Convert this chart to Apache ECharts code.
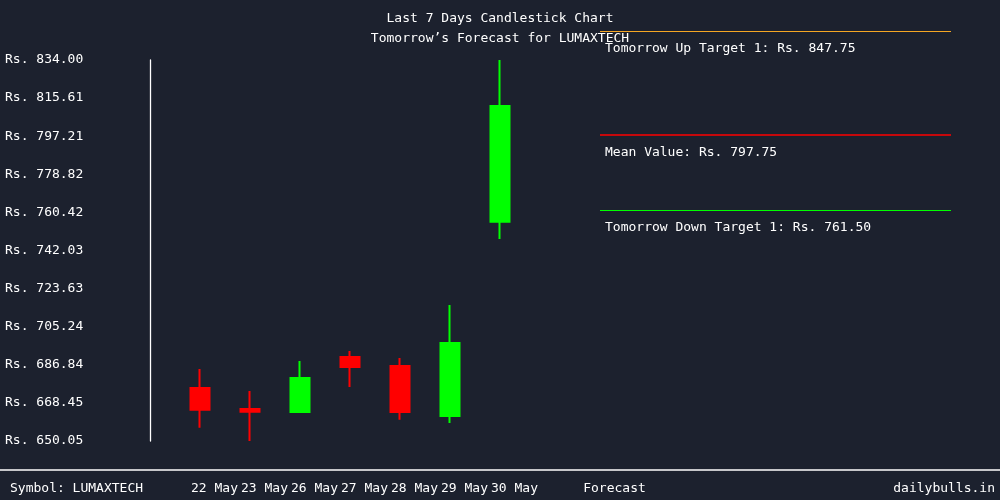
<!DOCTYPE html>
<html>
<head>
<meta charset="utf-8">
<script src="https://cdn.jsdelivr.net/npm/echarts@6/dist/echarts.min.js"></script>
<style>
html,body{margin:0;padding:0;background:#1c212e;}
#chart{width:1000px;height:500px;}
</style>
</head>
<body>
<div id="chart"></div>
<script>
// categories (x axis)
const dates = ['22 May', '23 May', '26 May', '27 May', '28 May', '29 May', '30 May', '', 'Forecast'];
// OHLC values [open, close, low, high]
const opens  = [675.64, 665.50, 664.05, 690.60, 686.30, 662.10, 755.93];
const closes = [665.16, 664.20, 680.47, 685.80, 664.05, 697.40, 811.80];
const lows   = [656.47, 650.05, 663.90, 676.10, 660.30, 658.70, 747.60];
const highs  = [684.81, 674.19, 688.67, 693.50, 690.10, 715.70, 834.00];
// y tick labels
const yTicks = [650.05, 668.45, 686.84, 705.24, 723.63, 742.03, 760.42, 778.82, 797.21, 815.61, 834.00];
// forecast targets
const forecastNames  = ['Tomorrow Up Target 1', 'Mean Value', 'Tomorrow Down Target 1'];
const forecastValues = [847.75, 797.75, 761.50];
const forecastColors = ['#f5a623', '#ff0000', '#00ff00'];

const FONT = "'DejaVu Sans Mono', 'Liberation Mono', monospace";
const candleData = opens.map((o, i) => [o, closes[i], lows[i], highs[i]]);

const chart = echarts.init(document.getElementById('chart'), null, {renderer: 'canvas'});
chart.setOption({
  backgroundColor: '#1c212e',
  animation: false,
  textStyle: {fontFamily: FONT},
  title: [
    {
      text: 'Last 7 Days Candlestick Chart',
      subtext: 'Tomorrow\u2019s Forecast for LUMAXTECH',
      left: 'center', top: 12, padding: 0, itemGap: 7,
      textStyle: {color: '#ffffff', fontSize: 13, fontWeight: 'normal', fontFamily: FONT},
      subtextStyle: {color: '#ffffff', fontSize: 13, fontFamily: FONT}
    },
    {
      text: 'Symbol: LUMAXTECH', left: 10, top: 482, padding: 0,
      textStyle: {color: '#ffffff', fontSize: 13, fontWeight: 'normal', fontFamily: FONT}
    },
    {
      text: 'dailybulls.in', right: 5, top: 482, padding: 0,
      textStyle: {color: '#ffffff', fontSize: 13, fontWeight: 'normal', fontFamily: FONT}
    }
  ],
  grid: [
    {left: 175, right: 375, top: 60, bottom: 59},
    {left: 600, right: 49, top: 31.5, bottom: 59}
  ],
  xAxis: [
    {
      type: 'category', gridIndex: 0, data: dates, boundaryGap: true,
      axisLine: {show: false}, axisTick: {show: false}, splitLine: {show: false},
      axisLabel: {
        interval: 0, color: '#ffffff', fontSize: 13, fontFamily: FONT,
        margin: 41, padding: [0, 0, 0, 29]
      }
    },
    {
      type: 'value', gridIndex: 1, min: 0, max: 1, show: false
    }
  ],
  yAxis: [
    {
      type: 'value', gridIndex: 0, min: 650.05, max: 834.00, offset: 25,
      axisLine: {show: true, lineStyle: {color: '#ffffff', width: 1.3}},
      axisTick: {show: false}, splitLine: {show: false},
      axisLabel: {
        customValues: yTicks, color: '#ffffff', fontSize: 13, fontFamily: FONT,
        align: 'left', margin: 145, padding: [0, 0, 7, 0],
        formatter: v => 'Rs. ' + Number(v).toFixed(2)
      }
    },
    {
      type: 'value', gridIndex: 1, min: 650.05, max: 847.75, show: false
    }
  ],
  series: [
    {
      type: 'candlestick', xAxisIndex: 0, yAxisIndex: 0,
      data: candleData, barWidth: 19,
      itemStyle: {
        color: '#00ff00', color0: '#ff0000',
        borderColor: '#00ff00', borderColor0: '#ff0000', borderWidth: 2
      }
    },
    {
      type: 'line', xAxisIndex: 1, yAxisIndex: 1, data: [],
      markLine: {
        silent: true, symbol: 'none', animation: false,
        data: forecastValues.map((v, i) => ({
          yAxis: v,
          lineStyle: {color: forecastColors[i], width: i === 1 ? 1.5 : 1.2, type: 'solid'},
          label: {
            show: true, position: 'insideStartBottom',
            formatter: forecastNames[i] + ': Rs. ' + v.toFixed(2),
            color: '#ffffff', fontSize: 13, fontFamily: FONT,
            distance: [5, 11]
          }
        }))
      }
    }
  ],
  graphic: [
    {
      type: 'line', silent: true,
      shape: {x1: 0, y1: 470, x2: 1000, y2: 470},
      style: {stroke: '#ffffff', lineWidth: 1.3}
    }
  ]
});
</script>
</body>
</html>
